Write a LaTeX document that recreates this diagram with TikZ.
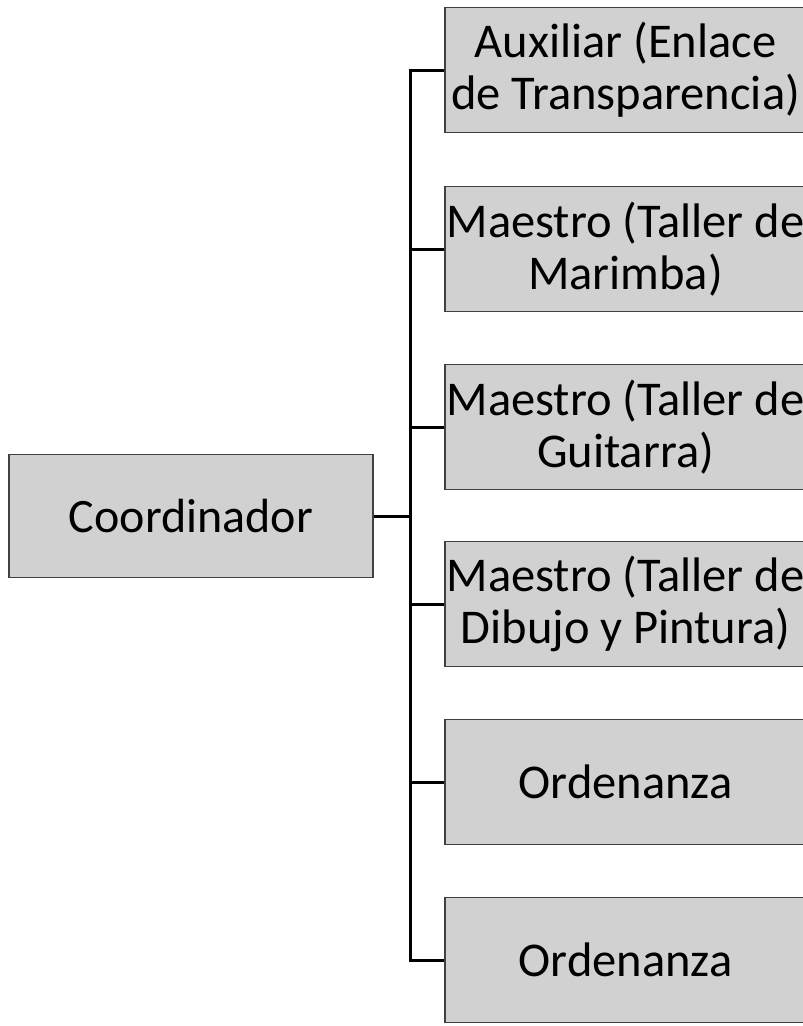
\documentclass[tikz,border=0pt]{standalone}
\usepackage{fontspec}
\setmainfont{Carlito}
\begin{document}
\begin{tikzpicture}[x=1pt,y=-1pt,
  box/.style={draw=black!75,line width=1.6pt,fill=black!18,inner sep=0pt,align=center,
    font=\fontsize{48.5}{52}\selectfont},
  rbox/.style={box,minimum width=361pt,minimum height=125pt},
  conn/.style={draw=black,line width=3pt}]
\useasboundingbox (0,0) rectangle (803,1026);
\clip (0,0) rectangle (803,1026);
\node[box,minimum width=364pt,minimum height=123pt,font=\fontsize{48}{54}\selectfont] (c) at (191,516) {Coordinador};
\node[rbox] (r1) at (625.5,70) {Auxiliar (Enlace\\de Transparencia)};
\node[rbox] (r2) at (625.5,249) {Maestro (Taller de\\Marimba)};
\node[rbox] (r3) at (625.5,427) {Maestro (Taller de\\Guitarra)};
\node[rbox] (r4) at (625.5,604) {Maestro (Taller de\\Dibujo y Pintura)};
\node[rbox] (r5) at (625.5,782) {Ordenanza};
\node[rbox] (r6) at (625.5,960) {Ordenanza};
\coordinate (hub) at (410,516);
\draw[conn] (c.east) -- (hub);
\draw[conn] (r1.west) -- (r1.west -| hub) -- (r6.west -| hub) -- (r6.west);
\draw[conn] (r2.west -| hub) -- (r2.west);
\draw[conn] (r3.west -| hub) -- (r3.west);
\draw[conn] (r4.west -| hub) -- (r4.west);
\draw[conn] (r5.west -| hub) -- (r5.west);
\end{tikzpicture}
\end{document}
